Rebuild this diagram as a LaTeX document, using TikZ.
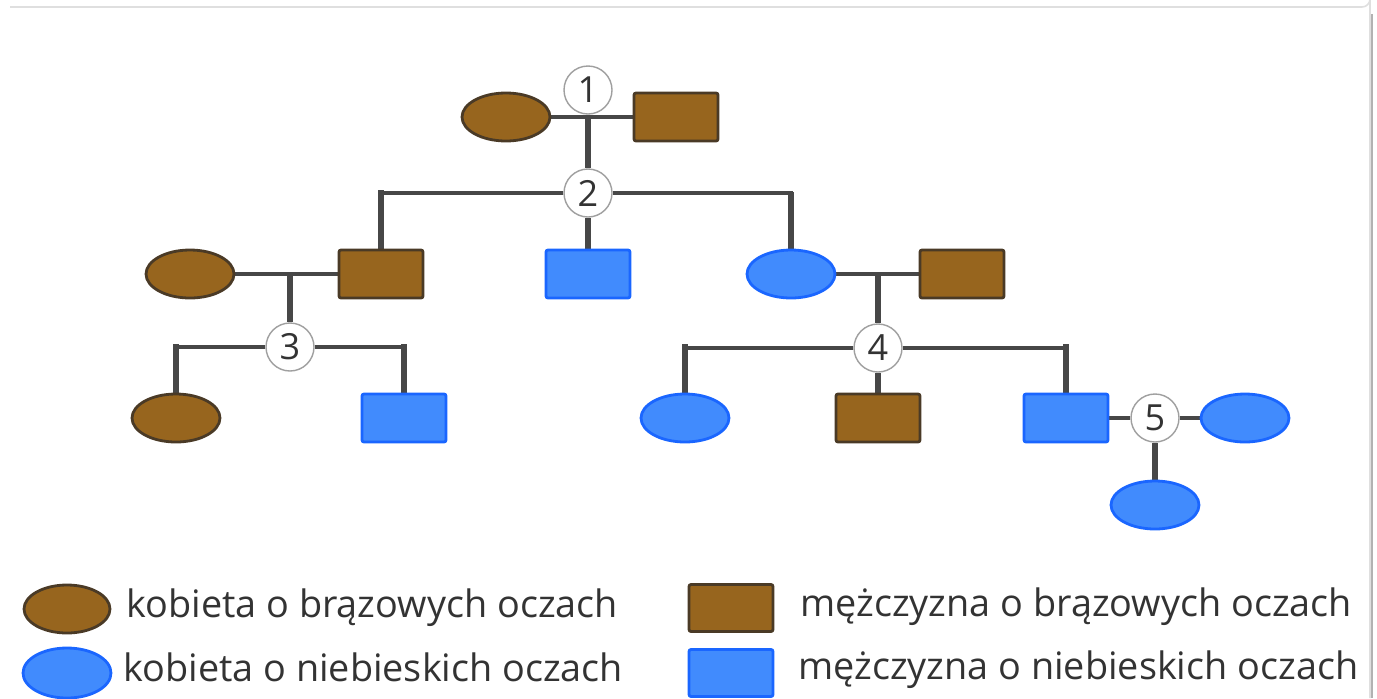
\documentclass[tikz,border=0pt]{standalone}
\usepackage{fontspec}
\setmainfont{Open Sans}
\usetikzlibrary{shapes.geometric,backgrounds}
\definecolor{brfill}{HTML}{97651E}
\definecolor{brdraw}{HTML}{4A3A26}
\definecolor{blfill}{HTML}{418BFD}
\definecolor{bldraw}{HTML}{1A66FF}
\definecolor{linec}{HTML}{474747}
\definecolor{txtc}{HTML}{333333}
\tikzset{
  fem/.style={ellipse, minimum width=44pt, minimum height=24pt, inner sep=0pt, line width=1.4pt},
  mal/.style={rectangle, minimum width=42pt, minimum height=24pt, inner sep=0pt, rounded corners=1pt, line width=1.4pt},
  brown/.style={fill=brfill, draw=brdraw},
  blue/.style={fill=blfill, draw=bldraw},
  numc/.style={circle, minimum size=24pt, inner sep=0pt, fill=white, draw=gray!75, line width=0.7pt, font=\fontsize{18pt}{20pt}\selectfont, text=txtc},
  hline/.style={draw=linec, line width=1.9pt},
  vline/.style={draw=linec, line width=2.6pt},
  legtxt/.style={anchor=base west, inner sep=0pt, font=\fontsize{18.9pt}{22pt}\selectfont, text=txtc},
}
\begin{document}
\begin{tikzpicture}[x=0.5pt, y=-0.5pt]
\useasboundingbox (0,0) rectangle (1377,698);
% card border
\draw[gray!25, line width=0.8pt] (10,7) -- (1362,7) arc (90:0:8) -- (1370,698);
\draw[gray!60, line width=0.6pt] (1372,14) -- (1372,698);

% generation 1
\node[fem, brown] (f1) at (506,117) {};
\node[mal, brown] (m1) at (676,117) {};
\node[numc] (c1) at (588,90) {1};
\node[numc] (c2) at (588,193) {2};
% generation 2
\node[fem, brown] (f2) at (190,274) {};
\node[mal, brown] (m2) at (381,274) {};
\node[mal, blue] (b2) at (588,274) {};
\node[fem, blue] (g2) at (791,274) {};
\node[mal, brown] (h2) at (962,274) {};
\node[numc] (c3) at (290,347) {3};
\node[numc] (c4) at (878,348) {4};
% generation 3
\node[fem, brown] (f3) at (176,418) {};
\node[mal, blue] (m3) at (404,418) {};
\node[fem, blue] (g3) at (685,418) {};
\node[mal, brown] (h3) at (878,418) {};
\node[mal, blue] (k3) at (1066,418) {};
\node[numc] (c5) at (1155,418) {5};
\node[fem, blue] (w3) at (1245,418) {};
\node[fem, blue] (d4) at (1155,505) {};

\coordinate (j1) at (588,117);
\coordinate (j3) at (290,274);
\coordinate (j4) at (878,274);

\begin{scope}[on background layer]
  \draw[hline] (f1.east) -- (m1.west);
  \draw[vline] (j1) -- (c2.north);
  \draw[hline] (c2.west) -| (m2.north);
  \draw[vline] (m2.north) -- ++(0,-59);
  \draw[hline] (c2.east) -| (g2.north);
  \draw[vline] (g2.north) -- ++(0,-57);
  \draw[vline] (c2.south) -- (b2.north);
  \draw[hline] (f2.east) -- (m2.west);
  \draw[vline] (j3) -- (c3.north);
  \draw[hline] (c3.west) -| (f3.north);
  \draw[vline] (f3.north) -- ++(0,-49);
  \draw[hline] (c3.east) -| (m3.north);
  \draw[vline] (m3.north) -- ++(0,-49);
  \draw[hline] (g2.east) -- (h2.west);
  \draw[vline] (j4) -- (c4.north);
  \draw[hline] (c4.west) -| (g3.north);
  \draw[vline] (g3.north) -- ++(0,-49);
  \draw[hline] (c4.east) -| (k3.north);
  \draw[vline] (k3.north) -- ++(0,-49);
  \draw[vline] (c4.south) -- (h3.north);
  \draw[hline] (k3.east) -- (c5.west);
  \draw[hline] (c5.east) -- (w3.west);
  \draw[vline] (c5.south) -- (d4.north);
\end{scope}

% legend
\node[fem, brown, minimum width=43pt, minimum height=24pt] (lf1) at (67,609) {};
\node[fem, blue, minimum width=44pt, minimum height=25pt] (lf2) at (67,673) {};
\node[mal, brown, minimum height=23.5pt] (lm1) at (731,608) {};
\node[mal, blue, minimum height=23.5pt] (lm2) at (731,673) {};
\node[legtxt] (t1) at (126,617) {kobieta o brązowych oczach};
\node[legtxt] (t2) at (123,681) {kobieta o niebieskich oczach};
\node[legtxt] (t3) at (800,616) {mężczyzna o brązowych oczach};
\node[legtxt] (t4) at (798,679) {mężczyzna o niebieskich oczach};
\end{tikzpicture}
\end{document}
